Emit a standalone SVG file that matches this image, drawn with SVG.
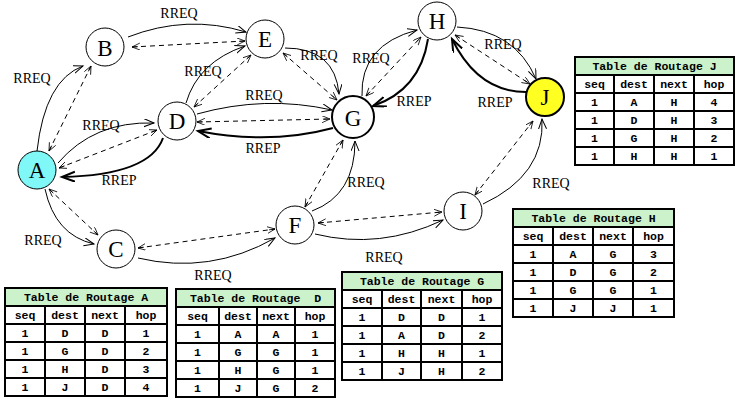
<svg xmlns="http://www.w3.org/2000/svg" width="749" height="410" viewBox="0 0 749 410">
<style>
.lbl{font-family:"Liberation Serif","Times New Roman",serif;font-size:14px;text-anchor:middle;fill:#000}
.nd{font-family:"Liberation Serif","Times New Roman",serif;font-size:23px;text-anchor:middle;fill:#000}
.node{fill:#fff;stroke:#000;stroke-width:1}
.req{fill:none;stroke:#000;stroke-width:1;marker-end:url(#arr)}
.dsh{fill:none;stroke:#000;stroke-width:1;stroke-dasharray:5,4;marker-end:url(#darr);marker-start:url(#darr)}
.rep{fill:none;stroke:#000;stroke-width:2;marker-end:url(#tarr)}
.tt{font-family:"Liberation Mono","Courier New",monospace;font-weight:bold;font-size:11.5px;text-anchor:middle;fill:#000}
.thead{fill:#ccf2cc}
.tframe{fill:none;stroke:#000;stroke-width:2}
.tgrid{fill:none;stroke:#000;stroke-width:2}
</style>
<defs>
<marker id="arr" markerUnits="userSpaceOnUse" markerWidth="12" markerHeight="10" refX="10" refY="4" orient="auto">
<path d="M0,0 L10,4 L0,8" fill="none" stroke="#000" stroke-width="1"/>
</marker>
<marker id="darr" markerUnits="userSpaceOnUse" markerWidth="10" markerHeight="8" refX="8" refY="3.5" orient="auto-start-reverse">
<path d="M0,0 L8,3.5 L0,7 M8,3.5 L2,3.5" fill="none" stroke="#000" stroke-width="0.8"/>
</marker>
<marker id="tarr" markerUnits="userSpaceOnUse" markerWidth="16" markerHeight="12" refX="13" refY="5" orient="auto">
<path d="M0,0 L13,5 L0,10" fill="none" stroke="#000" stroke-width="2"/>
</marker>
</defs>
<rect width="749" height="410" fill="#fff"/>

<g id="connectors">
<path class="req" d="M37,151 Q45,80 83,66"/>
<path class="dsh" d="M49,151 L91,66"/>
<path class="req" d="M58,163 Q94,121 154,123"/>
<path class="dsh" d="M59,168 L157,130"/>
<path class="rep" d="M163,138 Q150,175 62,177"/>
<path class="req" d="M128,37 Q187,14 246,32"/>
<path class="dsh" d="M132,47 L245,41"/>
<path class="req" d="M186,103 Q198,62 245,46"/>
<path class="dsh" d="M194,107 L251,55"/>
<path class="req" d="M285,48 Q335,48 339,94"/>
<path class="dsh" d="M283,53 L337,100"/>
<path class="req" d="M197,114 Q265,95 332,110"/>
<path class="dsh" d="M197,122 L330,119"/>
<path class="rep" d="M333,128 Q270,145 198,131"/>
<path class="req" d="M362,96 Q360,45 417,30"/>
<path class="dsh" d="M366,96 L421,37"/>
<path class="rep" d="M428,39 Q420,90 373,106"/>
<path class="req" d="M457,27 Q515,30 536,79"/>
<path class="dsh" d="M455,35 L530,84"/>
<path class="rep" d="M526,92 Q478,92 452,39"/>
<path class="req" d="M45,189 Q55,235 94,244"/>
<path class="dsh" d="M49,189 L98,235"/>
<path class="req" d="M138,258 Q210,275 275,238"/>
<path class="dsh" d="M138,248 L275,229"/>
<path class="req" d="M312,211 Q355,195 355,141"/>
<path class="dsh" d="M305,207 L343,140"/>
<path class="req" d="M315,234 Q380,250 443,220"/>
<path class="dsh" d="M318,223 L442,212"/>
<path class="req" d="M483,204 Q545,175 542,119"/>
<path class="dsh" d="M475,195 L533,121"/>
</g>

<g id="edge-labels">
<text class="lbl" x="32" y="83">RREQ</text>
<text class="lbl" x="179" y="18">RREQ</text>
<text class="lbl" x="203" y="76">RREQ</text>
<text class="lbl" x="101" y="130">RREQ</text>
<text class="lbl" x="119" y="185">RREP</text>
<text class="lbl" x="319" y="60">RREQ</text>
<text class="lbl" x="371" y="63">RREQ</text>
<text class="lbl" x="414" y="106">RREP</text>
<text class="lbl" x="264" y="100">RREQ</text>
<text class="lbl" x="263" y="153">RREP</text>
<text class="lbl" x="366" y="187">RREQ</text>
<text class="lbl" x="503" y="49">RREQ</text>
<text class="lbl" x="495" y="107">RREP</text>
<text class="lbl" x="551" y="188">RREQ</text>
<text class="lbl" x="43" y="245">RREQ</text>
<text class="lbl" x="213" y="280">RREQ</text>
<text class="lbl" x="384" y="262">RREQ</text>
</g>

<g id="node-A"><circle class="node" cx="37" cy="170" r="19" fill="#80ffff" style="fill:#80f8f8"/><text class="nd" x="37" y="178">A</text></g>
<g id="node-B"><circle class="node" cx="105" cy="47" r="19"/><text class="nd" x="105" y="56">B</text></g>
<g id="node-C"><circle class="node" cx="116" cy="249" r="19"/><text class="nd" x="116" y="257">C</text></g>
<g id="node-D"><circle class="node" cx="177" cy="121" r="19"/><text class="nd" x="177" y="129">D</text></g>
<g id="node-E"><circle class="node" cx="265" cy="39" r="19"/><text class="nd" x="265" y="47">E</text></g>
<g id="node-F"><circle class="node" cx="295" cy="225" r="19"/><text class="nd" x="295" y="233">F</text></g>
<g id="node-G"><circle class="node" cx="353" cy="117" r="21" style="stroke-width:2"/><text class="nd" x="353" y="126">G</text></g>
<g id="node-H"><circle class="node" cx="437" cy="21" r="19"/><text class="nd" x="437" y="29">H</text></g>
<g id="node-I"><circle class="node" cx="463" cy="211" r="19"/><text class="nd" x="463" y="219">I</text></g>
<g id="node-J"><circle class="node" cx="545" cy="97" r="19" style="fill:#ffff22;stroke-width:2"/><text class="nd" x="545" y="105">J</text></g>

<g id="table-A">
<rect class="thead" x="5" y="288" width="162" height="18"/>
<rect class="tframe" x="5" y="288" width="162" height="108"/>
<path class="tgrid" d="M5,306H167M5,324H167M5,342H167M5,360H167M5,378H167M45,306V396M85,306V396M125,306V396"/>
<text class="tt" x="86" y="301">Table de Routage A</text>
<text class="tt" x="25" y="319">seq</text><text class="tt" x="65" y="319">dest</text><text class="tt" x="105" y="319">next</text><text class="tt" x="146" y="319">hop</text>
<text class="tt" x="25" y="337">1</text><text class="tt" x="65" y="337">D</text><text class="tt" x="105" y="337">D</text><text class="tt" x="146" y="337">1</text>
<text class="tt" x="25" y="355">1</text><text class="tt" x="65" y="355">G</text><text class="tt" x="105" y="355">D</text><text class="tt" x="146" y="355">2</text>
<text class="tt" x="25" y="373">1</text><text class="tt" x="65" y="373">H</text><text class="tt" x="105" y="373">D</text><text class="tt" x="146" y="373">3</text>
<text class="tt" x="25" y="391">1</text><text class="tt" x="65" y="391">J</text><text class="tt" x="105" y="391">D</text><text class="tt" x="146" y="391">4</text>
</g>

<g id="table-D">
<rect class="thead" x="176" y="289" width="159" height="18"/>
<rect class="tframe" x="176" y="289" width="159" height="108"/>
<path class="tgrid" d="M176,307H335M176,325H335M176,343H335M176,361H335M176,379H335M219,307V397M257,307V397M295,307V397"/>
<text class="tt" x="255.5" y="302" xml:space="preserve">Table de Routage  D</text>
<text class="tt" x="197.5" y="320">seq</text><text class="tt" x="238" y="320">dest</text><text class="tt" x="276" y="320">next</text><text class="tt" x="315" y="320">hop</text>
<text class="tt" x="197.5" y="338">1</text><text class="tt" x="238" y="338">A</text><text class="tt" x="276" y="338">A</text><text class="tt" x="315" y="338">1</text>
<text class="tt" x="197.5" y="356">1</text><text class="tt" x="238" y="356">G</text><text class="tt" x="276" y="356">G</text><text class="tt" x="315" y="356">1</text>
<text class="tt" x="197.5" y="374">1</text><text class="tt" x="238" y="374">H</text><text class="tt" x="276" y="374">G</text><text class="tt" x="315" y="374">1</text>
<text class="tt" x="197.5" y="392">1</text><text class="tt" x="238" y="392">J</text><text class="tt" x="276" y="392">G</text><text class="tt" x="315" y="392">2</text>
</g>

<g id="table-G">
<rect class="thead" x="342" y="272" width="160" height="18"/>
<rect class="tframe" x="342" y="272" width="160" height="108"/>
<path class="tgrid" d="M342,290H502M342,308H502M342,326H502M342,344H502M342,362H502M382,290V380M421,290V380M462,290V380"/>
<text class="tt" x="422" y="285">Table de Routage G</text>
<text class="tt" x="362" y="303">seq</text><text class="tt" x="401.5" y="303">dest</text><text class="tt" x="441.5" y="303">next</text><text class="tt" x="482" y="303">hop</text>
<text class="tt" x="362" y="321">1</text><text class="tt" x="401.5" y="321">D</text><text class="tt" x="441.5" y="321">D</text><text class="tt" x="482" y="321">1</text>
<text class="tt" x="362" y="339">1</text><text class="tt" x="401.5" y="339">A</text><text class="tt" x="441.5" y="339">D</text><text class="tt" x="482" y="339">2</text>
<text class="tt" x="362" y="357">1</text><text class="tt" x="401.5" y="357">H</text><text class="tt" x="441.5" y="357">H</text><text class="tt" x="482" y="357">1</text>
<text class="tt" x="362" y="375">1</text><text class="tt" x="401.5" y="375">J</text><text class="tt" x="441.5" y="375">H</text><text class="tt" x="482" y="375">2</text>
</g>

<g id="table-H">
<rect class="thead" x="513" y="209" width="161" height="18"/>
<rect class="tframe" x="513" y="209" width="161" height="108"/>
<path class="tgrid" d="M513,227H674M513,245H674M513,263H674M513,281H674M513,299H674M553,227V317M593,227V317M633,227V317"/>
<text class="tt" x="593.5" y="222">Table de Routage H</text>
<text class="tt" x="533" y="240">seq</text><text class="tt" x="573" y="240">dest</text><text class="tt" x="613" y="240">next</text><text class="tt" x="653.5" y="240">hop</text>
<text class="tt" x="533" y="258">1</text><text class="tt" x="573" y="258">A</text><text class="tt" x="613" y="258">G</text><text class="tt" x="653.5" y="258">3</text>
<text class="tt" x="533" y="276">1</text><text class="tt" x="573" y="276">D</text><text class="tt" x="613" y="276">G</text><text class="tt" x="653.5" y="276">2</text>
<text class="tt" x="533" y="294">1</text><text class="tt" x="573" y="294">G</text><text class="tt" x="613" y="294">G</text><text class="tt" x="653.5" y="294">1</text>
<text class="tt" x="533" y="312">1</text><text class="tt" x="573" y="312">J</text><text class="tt" x="613" y="312">J</text><text class="tt" x="653.5" y="312">1</text>
</g>

<g id="table-J">
<rect class="thead" x="575" y="57" width="159" height="18"/>
<rect class="tframe" x="575" y="57" width="159" height="108"/>
<path class="tgrid" d="M575,75H734M575,93H734M575,111H734M575,129H734M575,147H734M614,75V165M654,75V165M694,75V165"/>
<text class="tt" x="654.5" y="70">Table de Routage J</text>
<text class="tt" x="594.5" y="88">seq</text><text class="tt" x="634" y="88">dest</text><text class="tt" x="674" y="88">next</text><text class="tt" x="714" y="88">hop</text>
<text class="tt" x="594.5" y="106">1</text><text class="tt" x="634" y="106">A</text><text class="tt" x="674" y="106">H</text><text class="tt" x="714" y="106">4</text>
<text class="tt" x="594.5" y="124">1</text><text class="tt" x="634" y="124">D</text><text class="tt" x="674" y="124">H</text><text class="tt" x="714" y="124">3</text>
<text class="tt" x="594.5" y="142">1</text><text class="tt" x="634" y="142">G</text><text class="tt" x="674" y="142">H</text><text class="tt" x="714" y="142">2</text>
<text class="tt" x="594.5" y="160">1</text><text class="tt" x="634" y="160">H</text><text class="tt" x="674" y="160">H</text><text class="tt" x="714" y="160">1</text>
</g>
</svg>
